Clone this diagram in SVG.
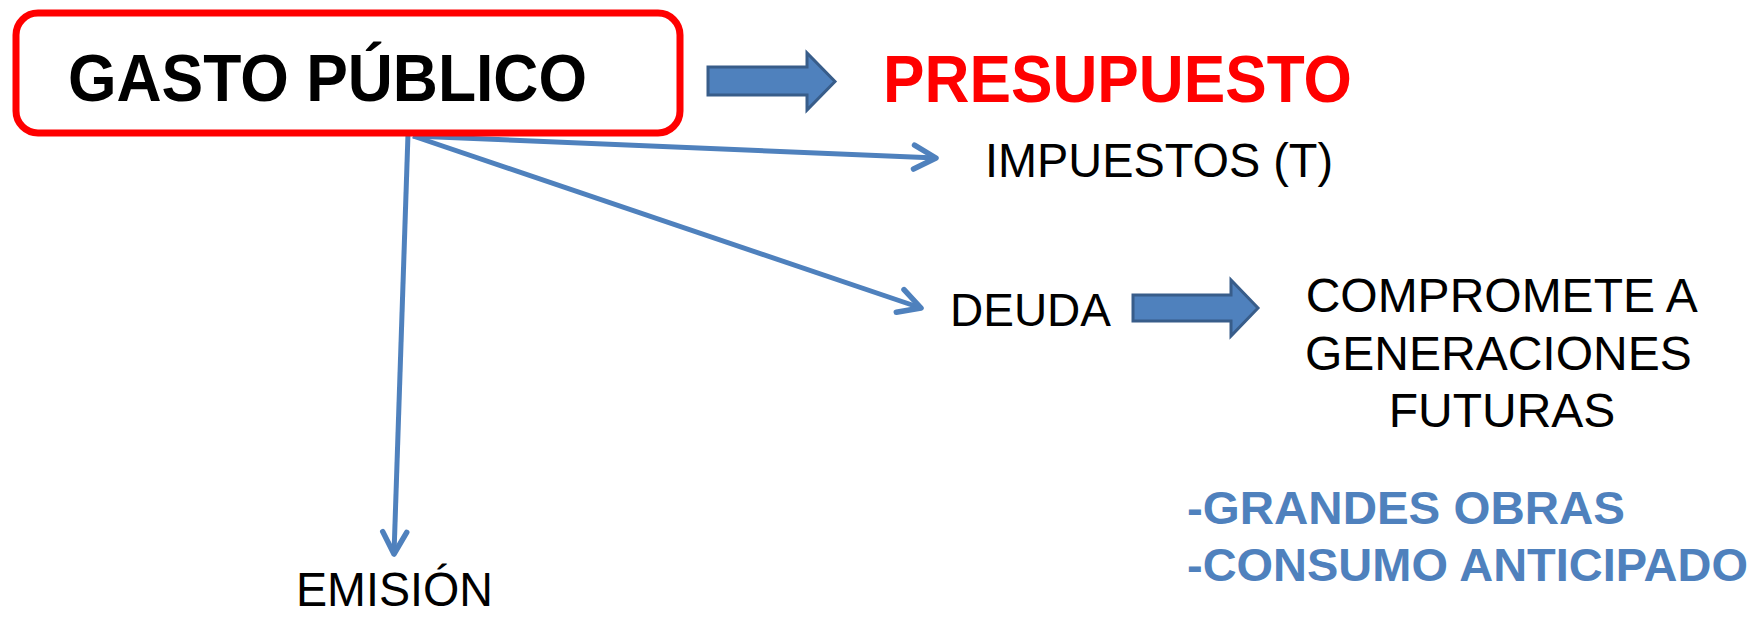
<svg xmlns="http://www.w3.org/2000/svg" width="1760" height="618" viewBox="0 0 1760 618">
<style>
.t{font-family:"Liberation Sans",Arial,sans-serif;fill:#000}
.b{font-weight:bold}
.blk{fill:#4F81BD;stroke:#385D8A;stroke-width:3}
.con{stroke:#4F81BD;stroke-width:5;fill:none}
.blue{fill:#4F81BD}
</style>
<defs>
<marker id="open" viewBox="-28 -16 32 32" refX="0" refY="0" markerWidth="32" markerHeight="32" markerUnits="userSpaceOnUse" orient="auto">
<path d="M-22,-12 L0,0 L-22,12" fill="none" stroke="#4F81BD" stroke-width="5.5" stroke-linecap="round" stroke-linejoin="round"/>
</marker>
</defs>
<rect width="1760" height="618" fill="#fff"/>
<g id="connectors">
<line class="con" x1="413" y1="136" x2="936" y2="158" marker-end="url(#open)"/>
<line class="con" x1="413" y1="136" x2="921" y2="308" marker-end="url(#open)"/>
<line class="con" x1="408" y1="134" x2="394" y2="554" marker-end="url(#open)"/>
<polygon class="blk" points="708,67 807,67 807,53 835,81.5 807,110 807,95 708,95"/>
<polygon class="blk" points="1133,295 1231,295 1231,280 1258,308 1231,336 1231,321 1133,321"/>
</g>
<g id="gasto">
<rect x="16" y="13" width="664" height="120" rx="22" fill="#fff" stroke="#FF0000" stroke-width="7"/>
<text class="t b" x="68" y="101" font-size="67" textLength="519" lengthAdjust="spacingAndGlyphs">GASTO PÚBLICO</text>
</g>
<g id="presupuesto">
<text class="t b" x="883" y="102" font-size="66" style="fill:#FF0000" textLength="469" lengthAdjust="spacingAndGlyphs">PRESUPUESTO</text>
</g>
<g id="impuestos">
<text class="t" x="985" y="177" font-size="49" textLength="348" lengthAdjust="spacingAndGlyphs">IMPUESTOS (T)</text>
</g>
<g id="deuda">
<text class="t" x="950" y="326" font-size="47" textLength="161" lengthAdjust="spacingAndGlyphs">DEUDA</text>
</g>
<g id="compromete">
<text class="t" font-size="48" text-anchor="middle">
<tspan x="1507" y="312">COMPROMETE A</tspan>
<tspan x="1505" y="370">GENERACIONES</tspan>
<tspan x="1502" y="427">FUTURAS</tspan>
</text>
</g>
<g id="lista">
<text class="t b blue" x="1187" y="524" font-size="47" style="fill:#4F81BD" textLength="438" lengthAdjust="spacingAndGlyphs">-GRANDES OBRAS</text>
<text class="t b blue" x="1187" y="581" font-size="47" style="fill:#4F81BD" textLength="561" lengthAdjust="spacingAndGlyphs">-CONSUMO ANTICIPADO</text>
</g>
<g id="emision">
<text class="t" x="296" y="606" font-size="48" textLength="197" lengthAdjust="spacingAndGlyphs">EMISIÓN</text>
</g>
</svg>
